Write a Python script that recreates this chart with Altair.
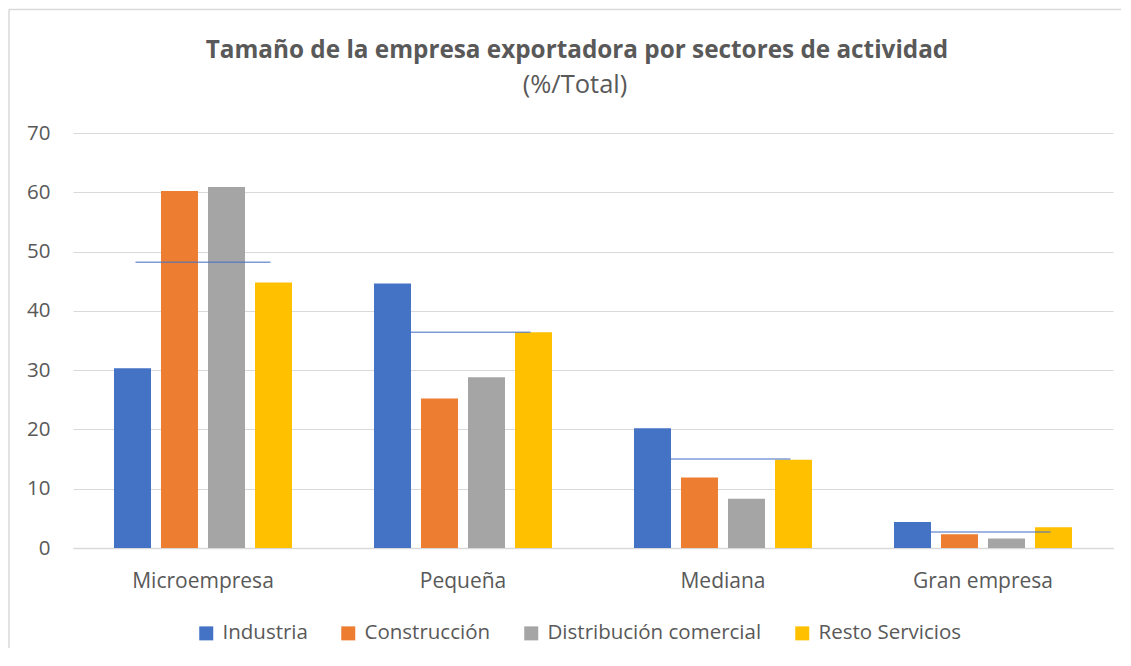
import altair as alt
import pandas as pd

categories = ["Microempresa", "Pequeña", "Mediana", "Gran empresa"]
series = ["Industria", "Construcción", "Distribución comercial", "Resto Servicios"]
industria = [30.3, 44.6, 20.2, 4.4]
construccion = [60.2, 25.2, 11.9, 2.3]
distribucion = [60.9, 28.8, 8.3, 1.6]
resto = [44.8, 36.4, 14.9, 3.5]
total = [48.2, 36.4, 15.0, 2.7]
colors = ["#4472C4", "#ED7D31", "#A5A5A5", "#FFC000"]
title_text = "Tamaño de la empresa exportadora por sectores de actividad"
subtitle_text = "(%/Total)"

rows = []
for s, vals in zip(series, [industria, construccion, distribucion, resto]):
    for c, v in zip(categories, vals):
        rows.append({"Tamaño": c, "Sector": s, "Valor": v})
df = pd.DataFrame(rows)
tot_df = pd.DataFrame({"Tamaño": categories, "Valor": total})
one = pd.DataFrame({"k": [0]})

FONT = "Open Sans"
GREY = "#595959"

bars = alt.Chart(df).mark_bar().encode(
    x=alt.X("Tamaño:N", sort=categories,
            scale=alt.Scale(paddingInner=0, paddingOuter=0),
            axis=alt.Axis(title=None, labelAngle=0, ticks=False, tickSize=0,
                          labelPadding=39, labelBaseline="alphabetic",
                          labelFontSize=21, domainColor="#D9D9D9", domainWidth=1.5,
                          grid=False)),
    xOffset=alt.XOffset("Sector:N", sort=series,
                        scale=alt.Scale(paddingInner=0.213, paddingOuter=0.872)),
    y=alt.Y("Valor:Q", scale=alt.Scale(domain=[0, 70]),
            axis=alt.Axis(title=None, values=[0, 10, 20, 30, 40, 50, 60, 70],
                          ticks=False, tickSize=0, labelPadding=23, domain=False,
                          labelFontSize=20.5, gridColor="#D9D9D9", gridWidth=1)),
    color=alt.Color("Sector:N", sort=series,
                    scale=alt.Scale(domain=series, range=colors),
                    legend=alt.Legend(title=None, orient="none", direction="horizontal",
                                      legendX=123, legendY=490,
                                      symbolType="square", symbolSize=196,
                                      symbolStrokeWidth=0, labelFontSize=20.5,
                                      labelFont=FONT, labelColor=GREY, labelLimit=0,
                                      labelOffset=6, columnPadding=30)),
)

ticks = alt.Chart(tot_df).mark_tick(size=135, thickness=1.5, color="#4472C4").encode(
    x=alt.X("Tamaño:N", sort=categories),
    y=alt.Y("Valor:Q"),
)

title = alt.Chart(one).mark_text(text=title_text, font=FONT, fontSize=24.3,
                                 fontWeight="bold", color=GREY, align="center",
                                 baseline="alphabetic").encode(
    x=alt.value(504), y=alt.value(-75))
subtitle = alt.Chart(one).mark_text(text=subtitle_text, font=FONT, fontSize=25.5,
                                    color=GREY, align="center",
                                    baseline="alphabetic").encode(
    x=alt.value(502), y=alt.value(-40))

border_left = alt.Chart(one).mark_rule(color="#D9D9D9", strokeWidth=1.5).encode(
    x=alt.value(-64), y=alt.value(-123.5), y2=alt.value(515))
border_top = alt.Chart(one).mark_rule(color="#D9D9D9", strokeWidth=1.5).encode(
    x=alt.value(-64), x2=alt.value(1048), y=alt.value(-123.5))

chart = alt.layer(border_left, border_top, bars, ticks, title, subtitle).properties(
    width=1040, height=415, padding=0
).configure_view(stroke=None).configure_axis(
    labelFont=FONT, labelColor=GREY
)

chart.save("out.html", embed_options={"renderer": "svg", "actions": False})
